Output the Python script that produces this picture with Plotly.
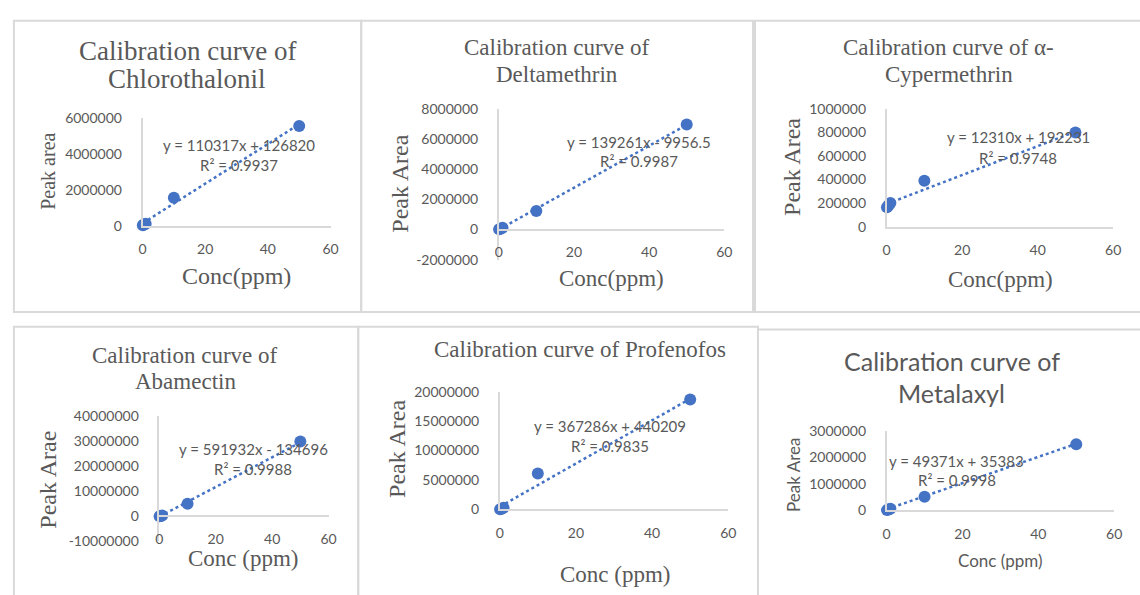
import plotly.graph_objects as go

W, H = 1140, 595

# ---------------- data ----------------
conc = [0.1, 0.5, 1, 10, 50]
chlorothalonil_area = [15000, 60000, 110000, 1550000, 5550000]
deltamethrin_area = [10000, 50000, 120000, 1230000, 6970000]
cypermethrin_area = [165000, 180000, 200000, 390000, 800000]
abamectin_area = [0, 100000, 300000, 5000000, 29800000]
profenofos_area = [20000, 100000, 250000, 6100000, 18700000]
metalaxyl_area = [5000, 25000, 60000, 510000, 2490000]

slopes = [110317, 139261, 12310, 591932, 367286, 49371]
intercepts = [126820, -9956.5, 192231, -134696, 440209, 35383]
r2_values = ["0.9937", "0.9987", "0.9748", "0.9988", "0.9835", "0.9998"]
eq_texts = ["y = 110317x + 126820", "y = 139261x - 9956.5", "y = 12310x + 192231",
            "y = 591932x - 134696", "y = 367286x + 440209", "y = 49371x + 35383"]

title_lines = [["Calibration curve of", "Chlorothalonil"],
               ["Calibration curve of", "Deltamethrin"],
               ["Calibration curve of α-", "Cypermethrin"],
               ["Calibration curve of", "Abamectin"],
               ["Calibration curve of Profenofos"],
               ["Calibration curve of", "Metalaxyl"]]
y_titles = ["Peak area", "Peak Area", "Peak Area", "Peak Arae", "Peak Area", "Peak Area"]
x_titles = ["Conc(ppm)", "Conc(ppm)", "Conc(ppm)", "Conc (ppm)", "Conc (ppm)", "Conc (ppm)"]

y_ranges = [[0, 6000000], [-2000000, 8000000], [0, 1000000],
            [-10000000, 40000000], [0, 20000000], [0, 3000000]]
y_tickvals = [
    [0, 2000000, 4000000, 6000000],
    [-2000000, 0, 2000000, 4000000, 6000000, 8000000],
    [0, 200000, 400000, 600000, 800000, 1000000],
    [-10000000, 0, 10000000, 20000000, 30000000, 40000000],
    [0, 5000000, 10000000, 15000000, 20000000],
    [0, 1000000, 2000000, 3000000],
]
y_ticktext = [
    ["0", "2000000", "4000000", "6000000"],
    ["-2000000", "0", "2000000", "4000000", "6000000", "8000000"],
    ["0", "200000", "400000", "600000", "800000", "1000000"],
    ["-10000000", "0", "10000000", "20000000", "30000000", "40000000"],
    ["0", "5000000", "10000000", "15000000", "20000000"],
    ["0", "1000000", "2000000", "3000000"],
]
x_range = [0, 60]
x_tickvals = [0, 20, 40, 60]
x_ticktext = ["0", "20", "40", "60"]

series = [chlorothalonil_area, deltamethrin_area, cypermethrin_area,
          abamectin_area, profenofos_area, metalaxyl_area]

# ---------------- layout (pixels) ----------------
def fx(x):
    return x / W

def fy(y):
    return 1 - y / H

# plot-area boxes: left, right, top, bottom (px)
boxes = [(140, 330, 112, 223), (500, 728, 103, 258), (892, 1121, 103, 224),
         (157, 328, 419, 548), (501, 732, 394, 515), (892, 1122, 434, 516)]
# title: x centre, line y centres, font size
title_pos = [(185, [43, 72], 27), (559, [40, 67], 23), (955, [40, 67], 23),
             (183, [357, 383], 23), (582, [350], 23), (958, [362, 395], 25)]
ytitle_pos = [(45, 167, 20), (400, 180, 24), (797, 163, 24), (45, 485, 24), (397, 453, 24), (798, 480, 17)]
xtitle_pos = [(235, 275, 24), (614, 277, 23), (1007, 278, 23), (242, 566, 23), (618, 582, 23), (1007, 568, 17)]
eq_pos = [(237, 140, 161), (642, 137, 156), (1025, 132, 153), (252, 453, 474), (612, 429, 450), (963, 465, 485)]
serif_panels = [True, True, True, True, True, False]
panel_rects = [(10, 361, 12, 312), (361, 757, 12, 312), (759, 1150, 12, 312),
               (10, 358, 327, 610), (358, 762, 327, 610), (762, 1150, 330, 610)]

BLUE = "#4472C4"
GREY = "#595959"
LINE = "#D9D9D9"
SERIF = "Liberation Serif, Times New Roman, serif"
SANS = "Lato, Calibri, sans-serif"

fig = go.Figure()
layout = dict(width=W, height=H, margin=dict(l=0, r=0, t=0, b=0), autosize=False,
              paper_bgcolor="white", plot_bgcolor="white", showlegend=False)
annotations = []
shapes = []

for i in range(6):
    k = "" if i == 0 else str(i + 1)
    xa, ya = "x" + k, "y" + k
    left, right, top, bottom = boxes[i]
    y0, y1 = y_ranges[i]
    dom_y = [fy(bottom), fy(top)]
    xaxis = dict(domain=[fx(left), fx(right)], range=x_range,
                 tickmode="array", tickvals=x_tickvals, ticktext=x_ticktext,
                 showgrid=False, zeroline=False, showline=True, linecolor=LINE, linewidth=1.5,
                 ticks="", tickfont=dict(family=SANS, size=14, color=GREY),
                 ticklabelstandoff=10)
    if y0 < 0:
        xaxis["anchor"] = "free"
        xaxis["position"] = dom_y[0] + (0 - y0) / (y1 - y0) * (dom_y[1] - dom_y[0])
    else:
        xaxis["anchor"] = ya
    yaxis = dict(domain=dom_y, range=[y0, y1], anchor=xa,
                 tickmode="array", tickvals=y_tickvals[i], ticktext=y_ticktext[i],
                 showgrid=False, zeroline=False, showline=True, linecolor=LINE, linewidth=1.5,
                 ticks="", tickfont=dict(family=SANS, size=14, color=GREY),
                 ticklabelstandoff=16)
    layout["xaxis" + k] = xaxis
    layout["yaxis" + k] = yaxis

    # trendline from the chart's printed equation
    tx = [min(conc), max(conc)]
    ty = [slopes[i] * v + intercepts[i] for v in tx]
    fig.add_trace(go.Scatter(x=tx, y=ty, mode="lines", xaxis=xa, yaxis=ya,
                             line=dict(color=BLUE, width=2.5, dash="dot"),
                             cliponaxis=False, hoverinfo="skip"))
    fig.add_trace(go.Scatter(x=conc, y=series[i], mode="markers", xaxis=xa, yaxis=ya,
                             marker=dict(color=BLUE, size=12), cliponaxis=False))

    tfont = SERIF if serif_panels[i] else SANS
    tcx, tys, ts = title_pos[i]
    for line_text, ly in zip(title_lines[i], tys):
        annotations.append(dict(x=fx(tcx), y=fy(ly), xref="paper", yref="paper", text=line_text,
                                showarrow=False, xanchor="center", yanchor="middle",
                                font=dict(family=tfont, size=ts, color=GREY)))
    yx, yy, ys = ytitle_pos[i]
    annotations.append(dict(x=fx(yx), y=fy(yy), xref="paper", yref="paper", text=y_titles[i],
                            showarrow=False, textangle=-90, xanchor="center", yanchor="middle",
                            font=dict(family=tfont, size=ys, color=GREY)))
    xx, xy, xs = xtitle_pos[i]
    annotations.append(dict(x=fx(xx), y=fy(xy), xref="paper", yref="paper", text=x_titles[i],
                            showarrow=False, xanchor="center", yanchor="middle",
                            font=dict(family=tfont, size=xs, color=GREY)))
    ex, ey1, ey2 = eq_pos[i]
    annotations.append(dict(x=fx(ex), y=fy(ey1), xref="paper", yref="paper", text=eq_texts[i],
                            showarrow=False, xanchor="center", yanchor="middle",
                            font=dict(family=SANS, size=15, color=GREY)))
    annotations.append(dict(x=fx(ex), y=fy(ey2), xref="paper", yref="paper",
                            text="R² = " + r2_values[i],
                            showarrow=False, xanchor="center", yanchor="middle",
                            font=dict(family=SANS, size=15, color=GREY)))

    l, r, t, b = panel_rects[i]
    shapes.append(dict(type="rect", xref="paper", yref="paper", x0=fx(l), x1=fx(r),
                       y0=fy(b), y1=fy(t), line=dict(color=LINE, width=2),
                       fillcolor="rgba(0,0,0,0)", layer="below"))

layout["annotations"] = annotations
layout["shapes"] = shapes
fig.update_layout(**layout)
fig.write_html("out.html", config={"displayModeBar": False},
               post_script="document.body.style.margin='0';document.body.style.overflow='hidden';")
